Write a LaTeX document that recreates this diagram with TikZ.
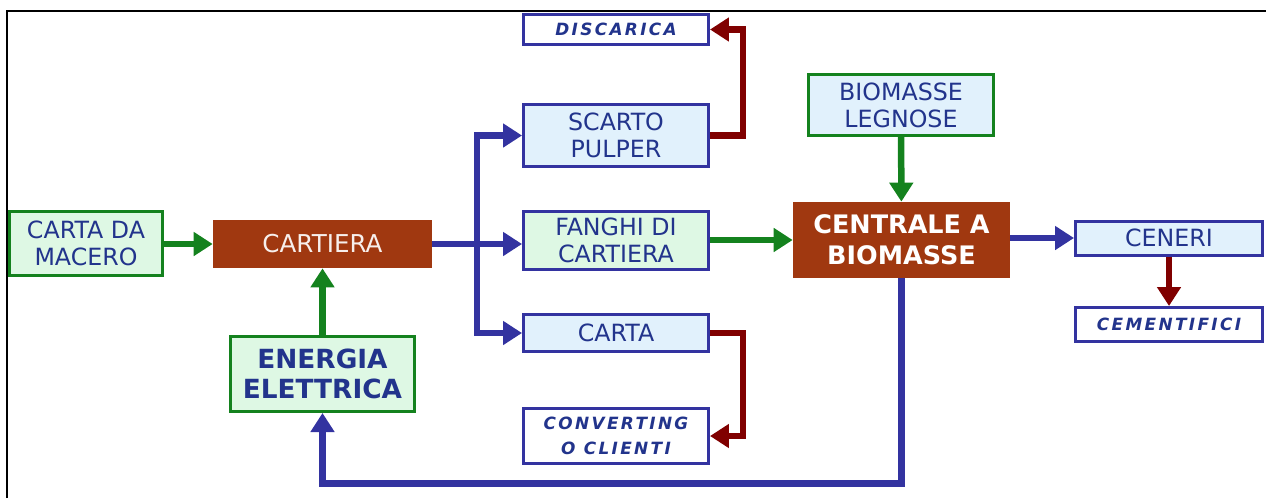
\documentclass[tikz,border=0pt]{standalone}
\usepackage{fontspec}
\setmainfont{DejaVu Sans}
\newfontfamily\spacedfont[LetterSpace=14]{DejaVu Sans}
\usepackage{xcolor}
\definecolor{FlowBlue}{RGB}{51,51,160}
\definecolor{FlowGreen}{RGB}{20,130,30}
\definecolor{FlowRed}{RGB}{128,0,0}
\definecolor{PlantBrown}{RGB}{160,56,16}
\definecolor{TextBlue}{RGB}{34,52,140}
\definecolor{PaleBlue}{RGB}{225,241,252}
\definecolor{PaleGreen}{RGB}{222,248,228}
\usepackage{tikz}
\usetikzlibrary{arrows.meta, positioning, calc}

\tikzset{
  box/.style={draw, line width=0.06cm, inner sep=0pt, align=center, text=TextBlue,
    font=\fontsize{13.5}{15.5}\selectfont},
  greenbox/.style={box, draw=FlowGreen, fill=PaleGreen},
  bluebox/.style={box, draw=FlowBlue, fill=PaleBlue},
  endbox/.style={box, draw=FlowBlue, fill=white, font=\spacedfont\bfseries\itshape\fontsize{9.6}{14}\selectfont},
  plant/.style={fill=PlantBrown, inner sep=0pt, align=center, text=white},
  flow/.style={line width=0.13cm, -{Triangle[length=0.38cm,width=0.46cm]}},
  blueflow/.style={flow, draw=FlowBlue},
  greenflow/.style={flow, draw=FlowGreen},
  redflow/.style={flow, draw=FlowRed},
}

\begin{document}
\begin{tikzpicture}[x=0.02cm, y=-0.02cm]
  \useasboundingbox (0,0) rectangle (1266,498);
  % left side
  \node[greenbox, minimum width=3.06cm, minimum height=1.28cm] (macero) at (86,243.5) {CARTA DA\\MACERO};
  \node[plant, minimum width=4.38cm, minimum height=0.96cm, text=white!92!PlantBrown,
    font=\fontsize{14}{16}\selectfont] (cartiera) at (322.5,244) {CARTIERA};
  \node[greenbox, minimum width=3.68cm, minimum height=1.5cm,
    font=\bfseries\fontsize{15}{17.5}\selectfont] (energia) at (322.5,374) {ENERGIA\\ELETTRICA};
  % middle column
  \node[endbox, minimum width=3.7cm, minimum height=0.6cm] (discarica) at (616,29.5) {DISCARICA};
  \node[bluebox, minimum width=3.7cm, minimum height=1.24cm] (pulper) at (616,135.5) {SCARTO\\PULPER};
  \node[bluebox, fill=PaleGreen, minimum width=3.7cm, minimum height=1.16cm] (fanghi) at (616,240) {FANGHI DI\\CARTIERA};
  \node[bluebox, minimum width=3.7cm, minimum height=0.74cm] (carta) at (616,333) {CARTA};
  \node[endbox, minimum width=3.7cm, minimum height=1.1cm] (converting) at (616,436) {CONVERTING\\O CLIENTI};
  % right side
  \node[box, draw=FlowGreen, fill=PaleBlue, minimum width=3.7cm, minimum height=1.22cm] (legnose) at (901,105) {BIOMASSE\\LEGNOSE};
  \node[plant, minimum width=4.34cm, minimum height=1.52cm,
    font=\bfseries\fontsize{14.5}{17.5}\selectfont] (centrale) at (901.5,240) {CENTRALE A\\BIOMASSE};
  \node[bluebox, minimum width=3.74cm, minimum height=0.68cm] (ceneri) at (1169,238) {CENERI};
  \node[endbox, minimum width=3.74cm, minimum height=0.68cm] (cementifici) at (1169,324.5) {CEMENTIFICI};

  \coordinate (split) at (477,244);
  \coordinate (loop) at (0,483);

  % connectors
  \draw[greenflow] (macero.east |- cartiera) -- (cartiera.west);
  \draw[greenflow] (energia) -- (cartiera);
  \draw[blueflow] (cartiera.east) -- (cartiera.east -| fanghi.west);
  \draw[blueflow] (split) |- (pulper.west);
  \draw[blueflow] (split) |- (carta.west);
  \draw[redflow] (pulper.east) -- ++(33,0) |- (discarica.east);
  \draw[redflow] (carta.east) -- ++(33,0) |- (converting.east);
  \draw[greenflow] (fanghi.east) -- (fanghi.east -| centrale.west);
  \draw[greenflow] (legnose) -- (centrale);
  \draw[blueflow] (centrale.east |- ceneri) -- (ceneri.west);
  \draw[redflow] (ceneri) -- (cementifici);
  \draw[blueflow, line width=0.14cm] (centrale.south) -- (centrale.south |- loop) -| (energia.south);

  % frame
  \draw[line width=0.05cm] (7,498) -- (7,11) -- (1266,11);
\end{tikzpicture}
\end{document}
